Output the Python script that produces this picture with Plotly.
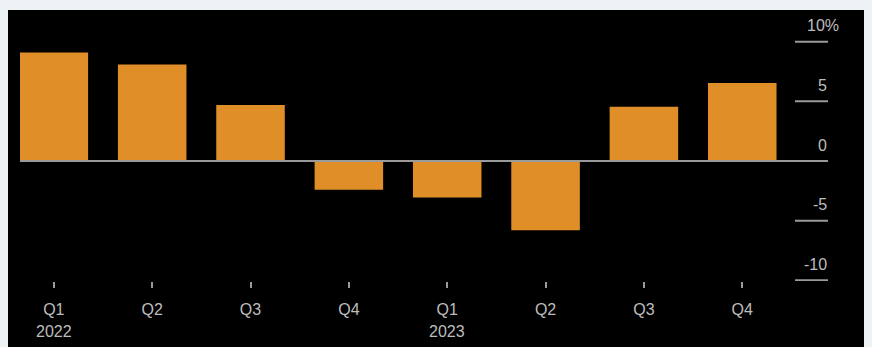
import plotly.graph_objects as go

# ---- data ----
periods = ["Q1 2022", "Q2 2022", "Q3 2022", "Q4 2022",
           "Q1 2023", "Q2 2023", "Q3 2023", "Q4 2023"]
quarter_labels = ["Q1", "Q2", "Q3", "Q4", "Q1", "Q2", "Q3", "Q4"]
values = [9.1, 8.1, 4.7, -2.4, -3.05, -5.8, 4.55, 6.55]
year_labels = ["2022", "2023"]
year_positions = ["Q1 2022", "Q1 2023"]
y_ticks = [10, 5, 0, -5, -10]
y_tick_text = ["10%", "5", "0", "-5", "-10"]

# ---- style ----
OFF = 8                      # page body margin offset
W, H = 872 - OFF, 347 - OFF
L, R, T, B = 20 - OFF, 44, 10 - OFF, 66
BAR = "#e08e28"
TXT = "#bdbdbd"
GRID = "#9a9a9a"
FONT = "Liberation Sans, Arial, sans-serif"
LIGHT = "#edf2f5"
FS = 16

pw = W - L - R
ph = H - T - B

def px_x(px):   # reference page pixel -> paper x
    return (px - OFF - L) / pw

def px_y(py):   # reference page pixel -> paper y
    return (H - B - (py - OFF)) / ph

fig = go.Figure()
fig.add_trace(go.Bar(
    x=periods, y=values,
    marker=dict(color=BAR, line=dict(width=0)),
    hoverinfo="skip",
))

shapes = []
shapes.append(dict(type="line", xref="paper", yref="y", x0=0, x1=1, y0=0, y1=0,
                   line=dict(color=GRID, width=2), layer="above"))
for v in y_ticks:
    if v == 0:
        continue
    shapes.append(dict(type="line", xref="paper", yref="y", x0=px_x(795), x1=1,
                       y0=v, y1=v, line=dict(color=GRID, width=2)))
# light top strip remainder
shapes.append(dict(type="rect", xref="paper", yref="paper",
                   x0=px_x(OFF), x1=px_x(872), y0=px_y(10), y1=px_y(OFF),
                   fillcolor=LIGHT, line=dict(width=0), layer="above"))

annotations = []
for v, t in zip(y_ticks, y_tick_text):
    if t.endswith("%"):
        annotations.append(dict(x=px_x(805), xref="paper", y=v, yref="y", text=t,
                                showarrow=False, xanchor="left", yanchor="middle",
                                yshift=16, font=dict(family=FONT, size=FS, color=TXT)))
    else:
        annotations.append(dict(x=px_x(829), xref="paper", y=v, yref="y", text=t,
                                showarrow=False, xanchor="right", yanchor="middle",
                                yshift=16, font=dict(family=FONT, size=FS, color=TXT)))
for yl, xp in zip(year_labels, year_positions):
    annotations.append(dict(x=xp, xref="x", y=px_y(331), yref="paper", text=yl,
                            showarrow=False, xanchor="center", yanchor="middle",
                            font=dict(family=FONT, size=FS, color=TXT)))

fig.update_layout(
    width=W, height=H,
    margin=dict(l=L, r=R, t=T, b=B),
    paper_bgcolor="#000000",
    plot_bgcolor="#000000",
    showlegend=False,
    bargap=0.303,
    shapes=shapes,
    annotations=annotations,
    xaxis=dict(
        range=[-0.344, 7.872],
        tickvals=periods, ticktext=quarter_labels,
        ticks="outside", ticklen=6, tickwidth=2, tickcolor=GRID,
        showline=False, showgrid=False, zeroline=False,
        tickfont=dict(family=FONT, size=FS, color=TXT),
        ticklabelstandoff=8,
        fixedrange=True,
    ),
    yaxis=dict(
        range=[-10.06, 12.66],
        showticklabels=False, showgrid=False, zeroline=False, showline=False,
        ticks="", fixedrange=True,
    ),
)

fig.write_html(
    "out.html",
    post_script="document.body.style.background='%s';" % LIGHT,
)
